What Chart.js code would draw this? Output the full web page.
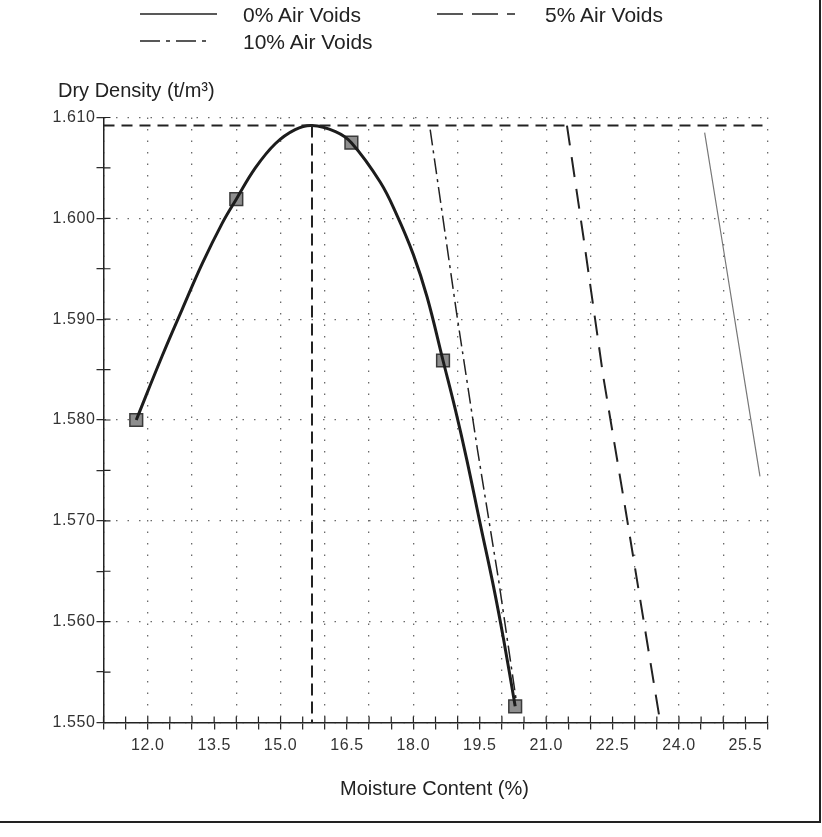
<!DOCTYPE html>
<html>
<head>
<meta charset="utf-8">
<script src="https://cdn.jsdelivr.net/npm/chart.js@4/dist/chart.umd.min.js"></script>
<style>
    body { margin: 0; background: #fff; }
    #wrap { position: relative; width: 822px; height: 837px; overflow: hidden; font-family: 'Liberation Sans', Arial, sans-serif; color: #222; }
    #chart { position: absolute; left: 0; top: 0; }
    .txt { position: absolute; white-space: nowrap; }
    .leg { font-size: 21px; line-height: 21px; }
    #frame { position: absolute; left: -3px; top: -3px; width: 822px; height: 824px; border-right: 2px solid #222; border-bottom: 2px solid #222; }
</style>
</head>
<body>
<div id="wrap">
    <canvas id="chart" width="822" height="837"></canvas>

    <!-- legend, laid out like the original two-column key -->
    <svg width="822" height="60" style="position:absolute;left:0;top:0">
        <line x1="140" y1="14" x2="217" y2="14" stroke="#222" stroke-width="1.3"/>
        <line x1="437" y1="14" x2="515" y2="14" stroke="#222" stroke-width="1.5" stroke-dasharray="26 9"/>
        <line x1="140" y1="41" x2="211" y2="41" stroke="#222" stroke-width="1.5" stroke-dasharray="20 6 4 6"/>
    </svg>
    <div class="txt leg" style="left:243px;top:4px">0% Air Voids</div>
    <div class="txt leg" style="left:545px;top:4px">5% Air Voids</div>
    <div class="txt leg" style="left:243px;top:31px">10% Air Voids</div>

    <div class="txt" style="left:58px;top:80px;font-size:20px;line-height:20px">Dry Density (t/m³)</div>
    <div class="txt" style="left:340px;top:778px;font-size:20px;line-height:20px">Moisture Content (%)</div>

    <div id="frame"></div>
</div>

<script>
// tick labels shown on the axes
const xTickLabels = ['12.0', '13.5', '15.0', '16.5', '18.0', '19.5', '21.0', '22.5', '24.0', '25.5'];
const yTickLabels = ['1.550', '1.560', '1.570', '1.580', '1.590', '1.600', '1.610'];

// compaction test results (moisture %, dry density t/m3)
const testMoisture = [11.74, 14.0, 16.6, 18.67, 20.3];
const testDensity = [1.5800, 1.6019, 1.6075, 1.5859, 1.5516];

// fitted compaction curve
const curveMoisture = [11.74, 12.32, 12.78, 13.23, 13.68, 14.0, 14.43, 14.88, 15.33, 15.71, 16.24, 16.6, 17.25, 17.63, 18.0, 18.31, 18.67, 18.95, 19.21, 19.51, 19.81, 20.04, 20.3];
const curveDensity = [1.5800, 1.5863, 1.5910, 1.5955, 1.5995, 1.6019, 1.6050, 1.6074, 1.6088, 1.6092, 1.6086, 1.6075, 1.6036, 1.6003, 1.5964, 1.5922, 1.5859, 1.5810, 1.5760, 1.5697, 1.5635, 1.5582, 1.5516];

// air voids lines
const voids10Moisture = [18.38, 18.98, 19.45, 19.93, 20.33];
const voids10Density = [1.6088, 1.5905, 1.5770, 1.5640, 1.5520];
const voids5Moisture = [21.47, 21.84, 22.29, 22.80, 23.57];
const voids5Density = [1.6092, 1.5982, 1.5843, 1.5709, 1.5502];
const voids0Moisture = [24.58, 24.97, 25.31, 25.83];
const voids0Density = [1.6085, 1.5979, 1.5886, 1.5744];

// max dry density / optimum moisture content guide lines
const mddMoisture = [11, 26];
const mddDensity = [1.6092, 1.6092];
const omcMoisture = [15.71, 15.71];
const omcDensity = [1.6092, 1.55];

const pts = (xs, ys) => xs.map((x, i) => ({ x: x, y: ys[i] }));

const FONT = "'Liberation Sans', Arial, sans-serif";
const DOT = '#6a6a6a';

// ticks on the original cross the axis, so add the inner half
const innerTicks = {
    id: 'innerTicks',
    afterDraw(chart) {
        const { ctx, chartArea: a, scales: { x, y } } = chart;
        ctx.save();
        ctx.strokeStyle = '#222';
        ctx.lineWidth = 1.2;
        ctx.beginPath();
        x.ticks.forEach(t => {
            const px = x.getPixelForValue(t.value);
            ctx.moveTo(px, a.bottom);
            ctx.lineTo(px, a.bottom - 6);
        });
        y.ticks.forEach(t => {
            const py = y.getPixelForValue(t.value);
            ctx.moveTo(a.left, py);
            ctx.lineTo(a.left + 7, py);
        });
        ctx.stroke();
        ctx.restore();
    }
};

// slightly wider lettering, like the scanned labels
const spacing = {
    id: 'spacing',
    beforeUpdate(chart) { chart.ctx.letterSpacing = '0.6px'; },
    beforeDraw(chart) { chart.ctx.letterSpacing = '0.6px'; }
};

new Chart(document.getElementById('chart'), {
    type: 'scatter',
    data: {
        datasets: [
            {
                data: pts(mddMoisture, mddDensity),
                showLine: true, borderColor: '#222', borderWidth: 2, borderDash: [11, 7],
                pointRadius: 0
            },
            {
                data: pts(omcMoisture, omcDensity),
                showLine: true, borderColor: '#222', borderWidth: 2, borderDash: [12, 6],
                pointRadius: 0
            },
            {
                data: pts(voids10Moisture, voids10Density),
                showLine: true, borderColor: '#222', borderWidth: 1.5, borderDash: [16, 5, 3, 5],
                pointRadius: 0
            },
            {
                data: pts(voids5Moisture, voids5Density),
                showLine: true, borderColor: '#222', borderWidth: 2, borderDash: [20, 12],
                pointRadius: 0
            },
            {
                data: pts(voids0Moisture, voids0Density),
                showLine: true, borderColor: '#777', borderWidth: 1.2,
                pointRadius: 0
            },
            {
                data: pts(curveMoisture, curveDensity),
                showLine: true, borderColor: '#1c1c1c', borderWidth: 3,
                tension: 0.4,
                pointRadius: 0
            },
            {
                data: pts(testMoisture, testDensity),
                showLine: false,
                pointStyle: 'rect', pointRadius: 9,
                backgroundColor: '#8e8e8e', borderColor: '#3a3a3a', borderWidth: 1.5
            }
        ]
    },
    options: {
        responsive: false,
        animation: false,
        devicePixelRatio: 1,
        layout: { padding: { top: 117.5, right: 54.5, left: 0, bottom: 0 } },
        plugins: { legend: { display: false }, tooltip: { enabled: false } },
        scales: {
            x: {
                type: 'linear', min: 11, max: 26,
                afterFit: s => { s.height = 114.5; },
                border: { display: true, color: '#222', width: 1.5, dash: [1.5, 10] },
                grid: {
                    color: c => Math.abs(c.tick.value - Math.round(c.tick.value)) < 1e-6 ? DOT : 'transparent',
                    lineWidth: 1.3,
                    tickColor: '#222', tickLength: 7, tickWidth: 1.2
                },
                ticks: {
                    stepSize: 0.5, autoSkip: false, maxRotation: 0, padding: 6,
                    color: '#333', font: { family: FONT, size: 16 },
                    callback: v => xTickLabels.includes(v.toFixed(1)) ? v.toFixed(1) : ''
                }
            },
            y: {
                type: 'linear', min: 1.55, max: 1.61,
                afterFit: s => { s.width = 103.5; },
                border: { display: true, color: '#222', width: 1.5, dash: [1.5, 10] },
                grid: {
                    color: c => Math.abs(c.tick.value * 100 - Math.round(c.tick.value * 100)) < 1e-6 ? DOT : 'transparent',
                    lineWidth: 1.3,
                    tickColor: '#222', tickLength: 7, tickWidth: 1.2
                },
                ticks: {
                    stepSize: 0.005, autoSkip: false, padding: 1,
                    color: '#333', font: { family: FONT, size: 16 },
                    callback: v => yTickLabels.includes(v.toFixed(3)) ? v.toFixed(3) : ''
                }
            }
        }
    },
    plugins: [innerTicks, spacing]
});
</script>
</body>
</html>
